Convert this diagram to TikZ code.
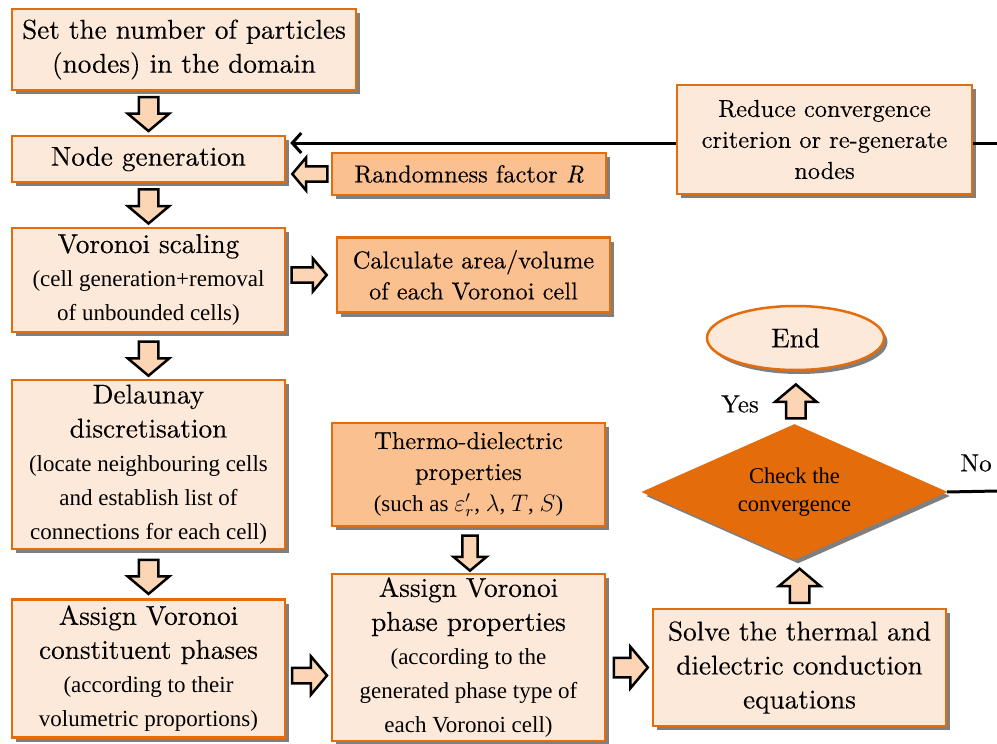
\documentclass[tikz,border=0pt]{standalone}
\usepackage{fontspec}
\setmainfont{Liberation Serif}
\newfontfamily\lmfont{lmroman10-regular}[Extension=.otf,ItalicFont=lmroman10-italic,BoldFont=lmroman10-bold,FakeBold=0.25]
\usetikzlibrary{shapes.geometric,shapes.arrows,shadows,calc,arrows.meta}
\definecolor{lightor}{HTML}{FDE9D9}
\definecolor{midor}{HTML}{FAC090}
\definecolor{bord}{HTML}{E46C0A}
\definecolor{arrfill}{HTML}{FCD5B5}
\newcommand\mainsz{\lmfont\fontsize{13.6}{17}\selectfont}
\newcommand\subsz{\rmfamily\fontsize{11.5}{14}\selectfont}
\newcommand\midsz{\lmfont\fontsize{12.2}{15.5}\selectfont}
\newcommand\chksz{\rmfamily\fontsize{11.25}{14}\selectfont}
\begin{document}
\begin{tikzpicture}[x=0.5pt,y=-0.5pt,
  shad/.style={drop shadow={shadow xshift=1.75pt,shadow yshift=-2pt,opacity=0.5,fill=black}},
  box/.style={rectangle,draw=bord,line width=1.25pt,fill=lightor,inner sep=0pt,align=center,font=\mainsz,shad},
  midbox/.style={box,fill=midor,font=\midsz},
  blk/.style={single arrow,draw=black,fill=arrfill,line width=1.25pt,inner xsep=0pt,single arrow tip angle=100,anchor=center},
  bigarr/.style={blk,inner ysep=4.25pt,single arrow head extend=5.5pt,minimum height=17pt},
  medarr/.style={blk,inner ysep=3.15pt,single arrow head extend=4.5pt,minimum height=17.5pt},
  lbl/.style={font=\lmfont\fontsize{12.5}{15}\selectfont,inner sep=0pt}
]
\useasboundingbox (0,0) rectangle (997,744);

% boxes
\node[box,minimum width=172pt,minimum height=40.5pt] (set) at (184,49.5) {Set the number of particles\\(nodes) in the domain};
\node[box,minimum width=136.5pt,minimum height=23pt] (nodegen) at (148.5,159) {Node generation};
\node[box,minimum width=136.5pt,minimum height=52pt] (vor) at (148.5,280) {Voronoi scaling\\\subsz (cell generation+removal\\\subsz of unbounded cells)};
\node[box,minimum width=136.5pt,minimum height=84.5pt] (del) at (148.5,464.5) {Delaunay\\discretisation\\\subsz (locate neighbouring cells\\\subsz and establish list of\\\subsz connections for each cell)};
\node[box,minimum width=136.5pt,minimum height=69pt] (con) at (148.5,668.5) {Assign Voronoi\\constituent phases\\\subsz (according to their\\\subsz volumetric proportions)};
\node[midbox,minimum width=137pt,minimum height=21pt] (rand) at (469,174) {Randomness factor \textit{R}};
\node[midbox,minimum width=136.5pt,minimum height=37.5pt] (calc) at (473.5,275) {Calculate area/volume\\of each Voronoi cell};
\node[box,font=\midsz,minimum width=147.5pt,minimum height=54.5pt] (red) at (824.5,139.5) {Reduce convergence\\criterion or re-generate\\nodes};
\node[midbox,minimum width=136.5pt,minimum height=51.5pt] (thermo) at (468.5,474.5) {Thermo-dielectric\\properties\\\subsz (such as $\varepsilon'_r$, $\lambda$, $T$, $S$)};
\node[box,minimum width=136.5pt,minimum height=83.5pt] (phase) at (468.5,657.5) {Assign Voronoi\\phase properties\\\subsz (according to the\\\subsz generated phase type of\\\subsz each Voronoi cell)};
\node[box,minimum width=146.5pt,minimum height=58.5pt] (solve) at (799.5,667.5) {Solve the thermal and\\dielectric conduction\\equations};
\node[diamond,aspect=2.2,draw=bord,line width=0.5pt,fill=bord,inner sep=0pt,align=center,font=\chksz,minimum width=152pt,minimum height=67.5pt,shad] (chk) at (794.5,492) {Check the\\convergence};
\node[ellipse,draw=bord,line width=1.25pt,fill=lightor,inner sep=0pt,font=\mainsz,minimum width=88.5pt,minimum height=32pt,shad] (end) at (795.5,338) {End};

% labels
\node[lbl] (yes) at (740,404) {Yes};
\node[lbl] (no) at (976,463) {No};

% helper coordinates
\coordinate (setb) at (set.south -| nodegen.south);
\coordinate (vorc) at (vor.east |- calc.west);
\coordinate (conp) at (con.east -| phase.west);
\coordinate (phs) at (phase.east |- solve.west);
\coordinate (randn) at (rand.west -| nodegen.east);

% block arrows
\node[bigarr,rotate=-90] (a1) at ($(setb)!0.43!(nodegen.north)$) {};
\node[bigarr,rotate=-90] (a2) at ($(nodegen.south)!0.44!(vor.north)$) {};
\node[bigarr,rotate=-90] (a3) at ($(vor.south)!0.47!(del.north)$) {};
\node[bigarr,rotate=-90] (a4) at ($(del.south)!0.47!(con.north)$) {};
\node[medarr,rotate=180] (a5) at ($(rand.west)!0.4!(randn)$) {};
\node[medarr] (a6) at ($(vorc)!0.4!(calc.west)$) {};
\node[medarr,inner ysep=3.25pt,single arrow head extend=5.75pt] (a7) at ($(con.east)!0.45!(conp)+(0,7)$) {};
\node[medarr,rotate=-90] (a8) at ($(thermo.south)!0.5!(phase.north)+(1.5,0)$) {};
\node[bigarr] (a9) at ($(phs)!0.45!(solve.west)$) {};
\node[bigarr,rotate=90] (a10) at ($(chk.south)!0.625!(solve.north)+(2,0)$) {};
\node[bigarr,rotate=90] (a11) at ($(end.south)!0.65!(chk.north)+(1,0)$) {};

% feedback lines
\coordinate (noend) at (997,491);
\coordinate (redend) at (997,143);
\coordinate (rede) at ($(red.east)+(0,3.5)$);
\coordinate (redw) at ($(red.west)+(0,3.5)$);
\coordinate (ngin) at (redw -| nodegen.east);
\draw[line width=1.5pt] (chk.east) -- (noend);
\draw[line width=1.5pt] (rede) -- (redend);
\draw[line width=1.5pt,-{Straight Barb[length=4.5pt,width=10pt,line width=1.5pt]}] (redw) -- ($(ngin)+(4,0)$);
\end{tikzpicture}
\end{document}
